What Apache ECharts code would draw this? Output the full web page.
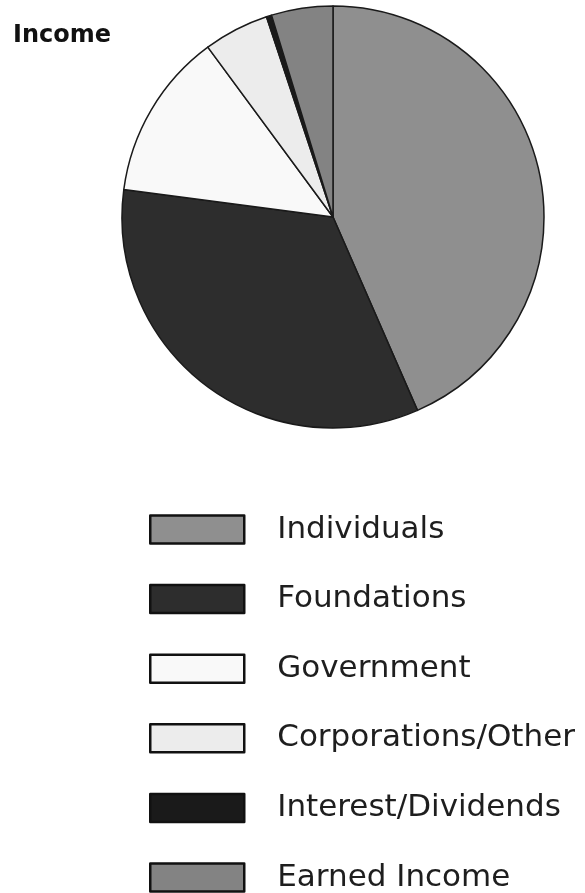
<!DOCTYPE html>
<html>
<head>
<meta charset="utf-8">
<script src="https://cdn.jsdelivr.net/npm/echarts@6/dist/echarts.min.js"></script>
<style>
    html, body { margin: 0; padding: 0; background: #fff; }
    #chart { width: 585px; height: 893px; }
</style>
</head>
<body>
<div id="chart"></div>
<script>
// income sources, share in percent
var sources = ['Individuals', 'Foundations', 'Government', 'Corporations/Other', 'Interest/Dividends', 'Earned Income'];
var shares = [43.4, 33.6, 12.8, 5.0, 0.4, 4.7];
var fills = ['#8f8f8f', '#2d2d2d', '#f9f9f9', '#ececec', '#1a1a1a', '#838383'];

var myChart = echarts.init(document.getElementById('chart'));

var pieData = [];
for (var i = 0; i < sources.length; i++) {
    pieData.push({
        name: sources[i],
        value: shares[i],
        itemStyle: { color: fills[i] }
    });
}

var option = {
    backgroundColor: '#fff',
    animation: false,
    title: {
        text: 'Income',
        left: 8,
        top: 19,
        textStyle: {
            fontFamily: 'DejaVu Sans',
            fontWeight: 'bold',
            fontSize: 24,
            color: '#111'
        }
    },
    legend: {
        orient: 'vertical',
        left: 149,
        top: 514,
        height: 700,
        padding: 0,
        icon: 'rect',
        itemWidth: 94,
        itemHeight: 28,
        itemGap: 38.6,
        selectedMode: false,
        data: sources,
        itemStyle: {
            borderColor: '#111',
            borderWidth: 2.5
        },
        textStyle: {
            fontFamily: 'DejaVu Sans',
            fontSize: 31,
            lineHeight: 30,
            color: '#1e1e1e',
            padding: [0, 0, 0, 28]
        }
    },
    series: [{
        type: 'pie',
        center: [333, 217],
        radius: 211,
        startAngle: 90,
        clockwise: true,
        silent: true,
        label: { show: false },
        labelLine: { show: false },
        itemStyle: {
            borderColor: '#1a1a1a',
            borderWidth: 1.5
        },
        data: pieData
    }]
};
myChart.setOption(option);
</script>
</body>
</html>
